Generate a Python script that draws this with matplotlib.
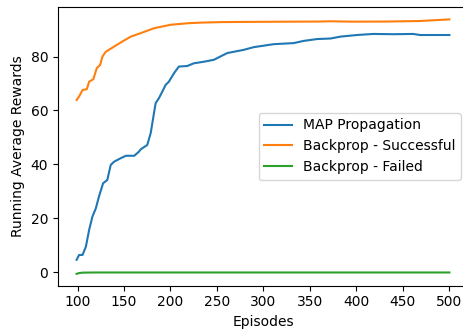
import matplotlib
matplotlib.use("Agg")
import matplotlib.pyplot as plt

# values
map_ep = [99, 101.7, 105.4, 109, 112.5, 116, 119.7, 123, 127.5, 132, 135.7, 139.3,
          146.5, 152, 161, 166, 168, 175, 178.7, 184, 187.6, 191.2, 194.8, 198.3,
          203.7, 209, 218, 225, 236, 246.6, 261, 278.8, 289.6, 311, 332.5, 343,
          357.6, 372, 382.7, 400.6, 418, 440, 461, 468.5, 500]
map_val = [4.6, 6.4, 6.4, 9.5, 15.7, 20.6, 23.7, 28, 33, 34.2, 39.8, 41,
           42.3, 43.2, 43.2, 44.7, 45.6, 47.2, 51.6, 62.7, 64.6, 67, 69.5, 70.7,
           73.8, 76.3, 76.5, 77.5, 78.1, 78.8, 81.3, 82.5, 83.5, 84.6, 85, 85.8,
           86.5, 86.7, 87.4, 88, 88.4, 88.3, 88.4, 88, 88]

bp_ok_ep = [99, 101.7, 105.4, 110, 112.5, 117, 120.7, 124.3, 126.8, 130.4, 139.3,
            148.3, 157.2, 168, 182.2, 200, 219.8, 232.5, 255.6, 300, 361, 372,
            396.7, 432.8, 468.5, 500]
bp_ok_val = [63.9, 65.2, 67.6, 67.9, 70.7, 71.6, 75.7, 76.9, 80, 81.8, 83.7,
             85.6, 87.4, 88.7, 90.5, 91.8, 92.4, 92.6, 92.8, 92.9, 93, 93.1,
             92.95, 93, 93.2, 93.8]

bp_fail_ep = [99, 102, 106, 120, 200, 300, 400, 500]
bp_fail_val = [-0.6, -0.3, -0.15, -0.1, -0.1, -0.1, -0.1, -0.1]

fig = plt.figure(figsize=(4.64, 3.31), dpi=100)
ax = fig.add_axes([0.125, 0.1369, 0.8836, 0.842])

ax.plot(map_ep, map_val, label="MAP Propagation")
ax.plot(bp_ok_ep, bp_ok_val, label="Backprop - Successful")
ax.plot(bp_fail_ep, bp_fail_val, label="Backprop - Failed")

ax.set_xlim(79, 520)
ax.set_ylim(-5, 98.4)
ax.set_xticks([100, 150, 200, 250, 300, 350, 400, 450, 500])
ax.set_yticks([0, 20, 40, 60, 80])
ax.set_xlabel("Episodes")
ax.set_ylabel("Running Average Rewards")
ax.legend(loc="center right")

fig.savefig("out.png", dpi=100)
